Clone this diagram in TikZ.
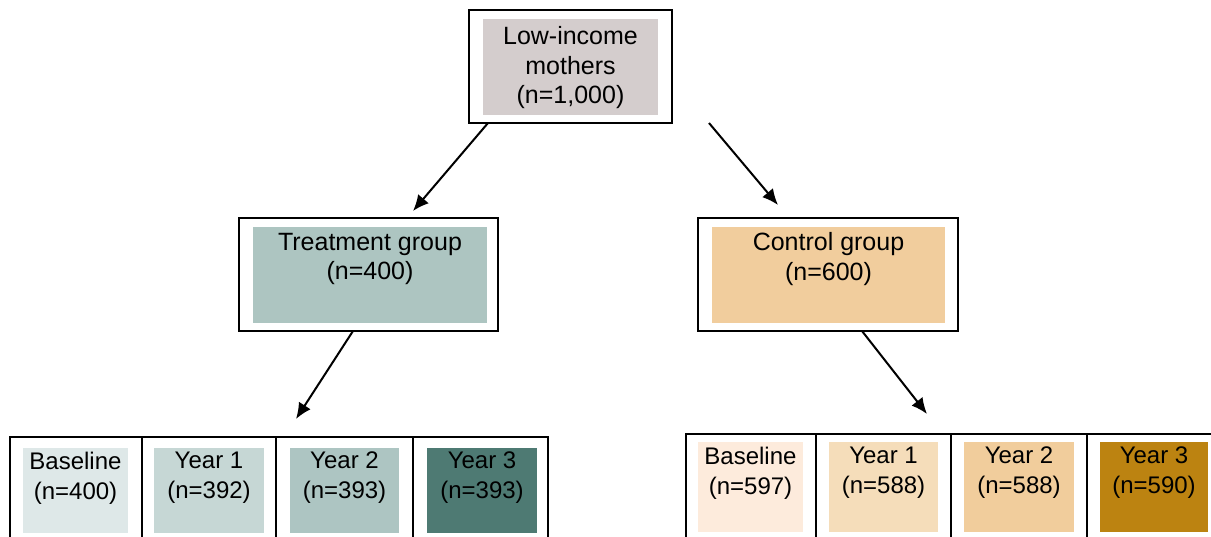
\documentclass[tikz,border=0pt]{standalone}
\usepackage{fontspec}
\setmainfont{Liberation Sans}
\usetikzlibrary{arrows.meta,calc}
\definecolor{topgrey}{RGB}{212,205,205}
\definecolor{treatc}{RGB}{173,197,193}
\definecolor{ctrlc}{RGB}{241,205,157}
\definecolor{lb0}{RGB}{222,232,232}
\definecolor{lb1}{RGB}{198,215,213}
\definecolor{lb2}{RGB}{173,197,194}
\definecolor{lb3}{RGB}{78,122,115}
\definecolor{rb0}{RGB}{253,235,220}
\definecolor{rb1}{RGB}{245,221,186}
\definecolor{rb2}{RGB}{241,205,156}
\definecolor{rb3}{RGB}{188,131,17}
\begin{document}
\begin{tikzpicture}[x=1pt,y=-1pt,
  outerbox/.style={draw=black,line width=2.2pt,fill=white,inner sep=0pt,outer sep=0pt,anchor=north west},
  fillbox/.style={inner sep=0pt,outer sep=0pt,anchor=north west},
  txt/.style={align=center,inner sep=0pt,font=\fontsize{25}{29.5}\selectfont},
  btxt/.style={align=center,inner sep=0pt,font=\fontsize{24}{30}\selectfont},
  arr/.style={draw=black,line width=2pt,-{Latex[length=16pt,width=14pt]}}
]
\useasboundingbox (0,0) rectangle (1211,536);
\clip (0,0) rectangle (1211,536);
% top box
\node[outerbox,minimum width=203,minimum height=113] (top) at (469,10) {};
\node[fillbox,fill=topgrey,minimum width=175,minimum height=96] (topin) at (483,19) {};
\node[txt] (toptxt) at (570.5,68) {Low-income\\mothers\\(n=1,000)};
% treatment
\node[outerbox,minimum width=259,minimum height=113] (treat) at (239,218) {};
\node[fillbox,fill=treatc,minimum width=234,minimum height=96] (treatin) at (253,227) {};
\node[txt] (treattxt) at (370,259) {Treatment group\\(n=400)};
% control
\node[outerbox,minimum width=260,minimum height=113] (ctrl) at (698,218) {};
\node[fillbox,fill=ctrlc,minimum width=233,minimum height=96] (ctrlin) at (712,227) {};
\node[txt] (ctrltxt) at (828.5,259) {Control group\\(n=600)};
% left bottom cells
\node[outerbox,minimum width=132,minimum height=130] (l0) at (10,437) {};
\node[outerbox,minimum width=134,minimum height=130] (l1) at (142,437) {};
\node[outerbox,minimum width=137,minimum height=130] (l2) at (276,437) {};
\node[outerbox,minimum width=135,minimum height=130] (l3) at (413,437) {};
\node[fillbox,fill=lb0,minimum width=105,minimum height=85] (l0in) at (23,448) {};
\node[fillbox,fill=lb1,minimum width=110,minimum height=85] (l1in) at (154,448) {};
\node[fillbox,fill=lb2,minimum width=109,minimum height=85] (l2in) at (290,448) {};
\node[fillbox,fill=lb3,minimum width=110,minimum height=85] (l3in) at (427,448) {};
\node[btxt] (l0t) at (75.5,478) {Baseline\\(n=400)};
\node[btxt] (l1t) at (209,478) {Year 1\\(n=392)};
\node[btxt] (l2t) at (344.5,478) {Year 2\\(n=393)};
\node[btxt] (l3t) at (482,478) {Year 3\\(n=393)};
% right bottom cells
\node[outerbox,minimum width=130,minimum height=130] (r0) at (686,434) {};
\node[outerbox,minimum width=135,minimum height=130] (r1) at (816,434) {};
\node[outerbox,minimum width=136,minimum height=130] (r2) at (951,434) {};
\node[outerbox,minimum width=135,minimum height=130] (r3) at (1087,434) {};
\node[fillbox,fill=rb0,minimum width=105,minimum height=90] (r0in) at (698,442) {};
\node[fillbox,fill=rb1,minimum width=109,minimum height=90] (r1in) at (829,442) {};
\node[fillbox,fill=rb2,minimum width=110,minimum height=90] (r2in) at (964,442) {};
\node[fillbox,fill=rb3,minimum width=108,minimum height=90] (r3in) at (1100,442) {};
\node[btxt] (r0t) at (750.5,473) {Baseline\\(n=597)};
\node[btxt] (r1t) at (883.5,473) {Year 1\\(n=588)};
\node[btxt] (r2t) at (1019,473) {Year 2\\(n=588)};
\node[btxt] (r3t) at (1154,473) {Year 3\\(n=590)};
% arrow ends
\coordinate (a1) at (413,211);
\coordinate (a2) at (778,205);
\coordinate (a3) at (296,419);
\coordinate (a4) at (927,414);
\draw[arr] ($(top.south west)+(19,0)$) -- (a1);
\draw[arr] ($(top.south west)+(240,0)$) -- (a2);
\draw[arr] ($(treat.south west)+(114,0)$) -- (a3);
\draw[arr] ($(ctrl.south west)+(164,0)$) -- (a4);
\end{tikzpicture}
\end{document}
